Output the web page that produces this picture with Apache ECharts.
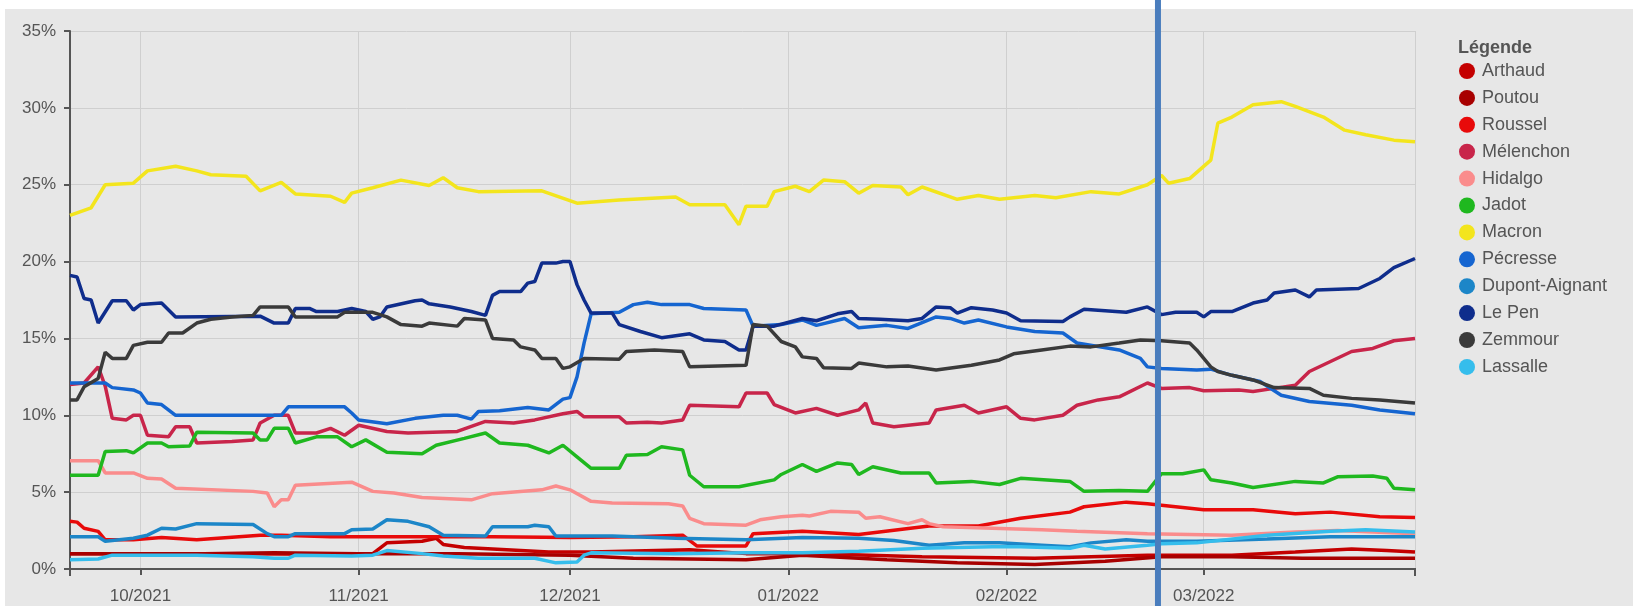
<!DOCTYPE html>
<html><head><meta charset="utf-8">
<script src="https://cdn.jsdelivr.net/npm/echarts@6/dist/echarts.min.js"></script>
<style>html,body{margin:0;padding:0;background:#fff}#c{width:1633px;height:606px}</style>
</head><body><div id="c"></div>
<script>
const names = ["Arthaud","Poutou","Roussel","Mélenchon","Hidalgo","Jadot","Macron","Pécresse","Dupont-Aignant","Le Pen","Zemmour","Lassalle"];
const colors = ["#c40000","#a80000","#e80a0a","#c8254a","#fa8c8c","#1fb81f","#f3e51d","#1565d0","#1c86c8","#0f2d8c","#3a3a3a","#35bdec"];
const yTicks = [0,5,10,15,20,25,30,35];
const markerDate = "2022-02-22T12:00:00";

const arthaud = [["2021-09-21",1.0],["2021-10-15",1.0],["2021-11-01",0.95],["2021-11-03",1.0],["2021-11-05",1.7],["2021-11-10",1.8],["2021-11-12",2.0],["2021-11-13",1.6],["2021-11-16",1.4],["2021-11-28",1.1],["2021-12-04",1.1],["2021-12-18",1.25],["2021-12-26",1.0],["2022-01-05",1.0],["2022-01-20",0.8],["2022-02-05",0.7],["2022-02-21",0.9],["2022-03-05",0.9],["2022-03-14",1.1],["2022-03-22",1.3],["2022-03-27",1.2],["2022-03-31",1.1]];
const poutou = [["2021-09-21",1.0],["2021-10-10",1.0],["2021-10-20",1.05],["2021-11-01",1.0],["2021-11-15",1.0],["2021-12-01",0.9],["2021-12-10",0.7],["2021-12-26",0.6],["2022-01-03",0.9],["2022-01-15",0.6],["2022-01-25",0.4],["2022-02-05",0.3],["2022-02-15",0.5],["2022-02-23",0.8],["2022-03-05",0.8],["2022-03-15",0.7],["2022-03-31",0.7]];
const roussel = [["2021-09-21",3.1],["2021-09-22",3.05],["2021-09-23",2.65],["2021-09-25",2.45],["2021-09-26",1.9],["2021-09-30",1.9],["2021-10-04",2.05],["2021-10-09",1.9],["2021-10-12",2.0],["2021-10-18",2.2],["2021-10-21",2.2],["2021-10-28",2.1],["2021-11-09",2.1],["2021-11-20",2.1],["2021-12-01",2.05],["2021-12-10",2.1],["2021-12-17",2.2],["2021-12-19",1.5],["2021-12-26",1.5],["2021-12-27",2.3],["2022-01-03",2.45],["2022-01-11",2.25],["2022-01-21",2.8],["2022-01-28",2.8],["2022-02-03",3.3],["2022-02-10",3.7],["2022-02-12",4.05],["2022-02-18",4.35],["2022-02-21",4.25],["2022-02-23",4.15],["2022-03-01",3.85],["2022-03-08",3.85],["2022-03-14",3.6],["2022-03-19",3.7],["2022-03-26",3.4],["2022-03-31",3.35]];
const melenchon = [["2021-09-21",12.0],["2021-09-23",12.1],["2021-09-25",13.15],["2021-09-26",11.9],["2021-09-27",9.8],["2021-09-29",9.7],["2021-09-30",10.0],["2021-10-01",10.0],["2021-10-02",8.7],["2021-10-05",8.6],["2021-10-06",9.25],["2021-10-08",9.25],["2021-10-09",8.2],["2021-10-14",8.3],["2021-10-17",8.4],["2021-10-18",9.5],["2021-10-20",10.0],["2021-10-22",10.0],["2021-10-23",8.85],["2021-10-26",8.85],["2021-10-28",9.15],["2021-10-30",8.7],["2021-11-01",9.35],["2021-11-05",8.95],["2021-11-08",8.85],["2021-11-15",8.95],["2021-11-19",9.6],["2021-11-23",9.5],["2021-11-26",9.7],["2021-11-30",10.1],["2021-12-02",10.25],["2021-12-03",9.9],["2021-12-08",9.9],["2021-12-09",9.5],["2021-12-12",9.55],["2021-12-14",9.5],["2021-12-17",9.7],["2021-12-18",10.65],["2021-12-25",10.55],["2021-12-26",11.45],["2021-12-29",11.45],["2021-12-30",10.7],["2022-01-02",10.15],["2022-01-05",10.45],["2022-01-08",10.0],["2022-01-11",10.35],["2022-01-12",10.8],["2022-01-13",9.5],["2022-01-16",9.25],["2022-01-21",9.5],["2022-01-22",10.35],["2022-01-26",10.65],["2022-01-28",10.15],["2022-02-01",10.55],["2022-02-03",9.8],["2022-02-05",9.7],["2022-02-09",10.0],["2022-02-11",10.65],["2022-02-14",11.0],["2022-02-17",11.2],["2022-02-21",12.1],["2022-02-23",11.75],["2022-02-27",11.8],["2022-03-01",11.6],["2022-03-06",11.65],["2022-03-08",11.55],["2022-03-11",11.75],["2022-03-14",11.95],["2022-03-16",12.85],["2022-03-19",13.5],["2022-03-22",14.15],["2022-03-25",14.35],["2022-03-28",14.85],["2022-03-31",15.0]];
const hidalgo = [["2021-09-21",7.05],["2021-09-25",7.05],["2021-09-26",6.25],["2021-09-30",6.25],["2021-10-02",5.9],["2021-10-04",5.85],["2021-10-06",5.25],["2021-10-17",5.05],["2021-10-19",4.95],["2021-10-20",4.05],["2021-10-21",4.5],["2021-10-22",4.5],["2021-10-23",5.45],["2021-10-31",5.65],["2021-11-03",5.05],["2021-11-06",4.95],["2021-11-10",4.65],["2021-11-17",4.5],["2021-11-20",4.9],["2021-11-27",5.15],["2021-11-29",5.4],["2021-12-01",5.15],["2021-12-04",4.4],["2021-12-07",4.3],["2021-12-15",4.25],["2021-12-17",4.1],["2021-12-18",3.3],["2021-12-20",2.95],["2021-12-26",2.85],["2021-12-28",3.2],["2021-12-31",3.4],["2022-01-03",3.5],["2022-01-04",3.45],["2022-01-07",3.75],["2022-01-11",3.7],["2022-01-12",3.3],["2022-01-14",3.4],["2022-01-18",2.95],["2022-01-20",3.2],["2022-01-21",2.95],["2022-01-23",2.75],["2022-01-30",2.65],["2022-02-06",2.55],["2022-02-11",2.45],["2022-02-21",2.3],["2022-03-05",2.2],["2022-03-14",2.4],["2022-03-20",2.5],["2022-03-31",2.3]];
const jadot = [["2021-09-21",6.1],["2021-09-25",6.1],["2021-09-26",7.65],["2021-09-29",7.7],["2021-09-30",7.55],["2021-10-02",8.2],["2021-10-04",8.2],["2021-10-05",7.95],["2021-10-08",8.0],["2021-10-09",8.9],["2021-10-17",8.85],["2021-10-18",8.4],["2021-10-19",8.4],["2021-10-20",9.15],["2021-10-22",9.15],["2021-10-23",8.2],["2021-10-26",8.6],["2021-10-29",8.6],["2021-10-31",7.95],["2021-11-02",8.4],["2021-11-05",7.6],["2021-11-10",7.5],["2021-11-12",8.05],["2021-11-16",8.5],["2021-11-19",8.85],["2021-11-21",8.2],["2021-11-25",8.05],["2021-11-28",7.55],["2021-11-30",8.05],["2021-12-02",7.3],["2021-12-04",6.55],["2021-12-08",6.55],["2021-12-09",7.4],["2021-12-12",7.45],["2021-12-14",7.95],["2021-12-17",7.75],["2021-12-18",6.1],["2021-12-20",5.35],["2021-12-25",5.35],["2021-12-30",5.8],["2021-12-31",6.15],["2022-01-03",6.8],["2022-01-05",6.35],["2022-01-08",6.9],["2022-01-10",6.8],["2022-01-11",6.15],["2022-01-13",6.65],["2022-01-17",6.25],["2022-01-21",6.25],["2022-01-22",5.6],["2022-01-27",5.7],["2022-01-31",5.5],["2022-02-03",5.9],["2022-02-10",5.7],["2022-02-12",5.05],["2022-02-17",5.1],["2022-02-21",5.05],["2022-02-23",6.2],["2022-02-26",6.2],["2022-03-01",6.45],["2022-03-02",5.8],["2022-03-05",5.6],["2022-03-08",5.3],["2022-03-14",5.7],["2022-03-18",5.6],["2022-03-20",6.0],["2022-03-25",6.05],["2022-03-27",5.9],["2022-03-28",5.25],["2022-03-31",5.15]];
const macron = [["2021-09-21",23.0],["2021-09-24",23.5],["2021-09-26",25.0],["2021-09-30",25.1],["2021-10-02",25.9],["2021-10-06",26.2],["2021-10-09",25.9],["2021-10-11",25.65],["2021-10-16",25.55],["2021-10-18",24.6],["2021-10-21",25.15],["2021-10-23",24.4],["2021-10-28",24.25],["2021-10-30",23.85],["2021-10-31",24.45],["2021-11-03",24.8],["2021-11-07",25.3],["2021-11-11",24.95],["2021-11-13",25.45],["2021-11-15",24.8],["2021-11-18",24.55],["2021-11-27",24.6],["2021-12-02",23.8],["2021-12-08",24.0],["2021-12-16",24.2],["2021-12-18",23.7],["2021-12-23",23.7],["2021-12-25",22.4],["2021-12-26",23.6],["2021-12-29",23.6],["2021-12-30",24.55],["2022-01-02",24.9],["2022-01-04",24.55],["2022-01-06",25.3],["2022-01-09",25.2],["2022-01-11",24.45],["2022-01-13",24.95],["2022-01-17",24.85],["2022-01-18",24.35],["2022-01-20",24.85],["2022-01-25",24.05],["2022-01-28",24.3],["2022-01-31",24.05],["2022-02-05",24.3],["2022-02-08",24.15],["2022-02-13",24.55],["2022-02-17",24.4],["2022-02-21",25.0],["2022-02-23",25.6],["2022-02-24",25.1],["2022-02-27",25.4],["2022-03-02",26.6],["2022-03-03",29.0],["2022-03-05",29.4],["2022-03-08",30.2],["2022-03-12",30.4],["2022-03-14",30.1],["2022-03-18",29.4],["2022-03-21",28.55],["2022-03-24",28.25],["2022-03-28",27.9],["2022-03-31",27.8]];
const pecresse = [["2021-09-21",12.1],["2021-09-26",12.1],["2021-09-27",11.8],["2021-09-30",11.65],["2021-10-01",11.45],["2021-10-02",10.8],["2021-10-04",10.7],["2021-10-06",10.0],["2021-10-21",10.0],["2021-10-22",10.55],["2021-10-30",10.55],["2021-10-31",10.15],["2021-11-01",9.7],["2021-11-05",9.45],["2021-11-09",9.8],["2021-11-13",10.0],["2021-11-15",10.0],["2021-11-17",9.75],["2021-11-18",10.25],["2021-11-21",10.3],["2021-11-25",10.5],["2021-11-28",10.35],["2021-11-30",11.05],["2021-12-01",11.15],["2021-12-02",12.5],["2021-12-03",14.7],["2021-12-04",16.6],["2021-12-08",16.7],["2021-12-10",17.2],["2021-12-12",17.35],["2021-12-14",17.2],["2021-12-18",17.2],["2021-12-20",16.95],["2021-12-26",16.85],["2021-12-27",15.8],["2021-12-31",15.9],["2022-01-03",16.2],["2022-01-05",15.85],["2022-01-09",16.3],["2022-01-11",15.7],["2022-01-15",15.85],["2022-01-18",15.65],["2022-01-22",16.4],["2022-01-24",16.3],["2022-01-26",16.0],["2022-01-28",16.2],["2022-02-01",15.75],["2022-02-05",15.45],["2022-02-09",15.35],["2022-02-11",14.7],["2022-02-17",14.25],["2022-02-20",13.7],["2022-02-21",13.15],["2022-02-23",13.05],["2022-02-28",12.95],["2022-03-02",13.0],["2022-03-05",12.6],["2022-03-09",12.2],["2022-03-12",11.3],["2022-03-16",10.9],["2022-03-22",10.65],["2022-03-26",10.35],["2022-03-31",10.1]];
const dupont = [["2021-09-21",2.1],["2021-09-25",2.1],["2021-09-26",1.8],["2021-09-30",2.0],["2021-10-02",2.2],["2021-10-04",2.65],["2021-10-06",2.6],["2021-10-09",2.95],["2021-10-17",2.9],["2021-10-19",2.3],["2021-10-20",2.1],["2021-10-22",2.1],["2021-10-23",2.3],["2021-10-30",2.3],["2021-10-31",2.55],["2021-11-03",2.6],["2021-11-05",3.2],["2021-11-08",3.1],["2021-11-11",2.75],["2021-11-13",2.2],["2021-11-19",2.15],["2021-11-20",2.75],["2021-11-25",2.75],["2021-11-26",2.85],["2021-11-28",2.75],["2021-11-29",2.15],["2021-12-07",2.15],["2021-12-16",2.0],["2021-12-26",1.9],["2022-01-03",2.05],["2022-01-11",2.0],["2022-01-16",1.85],["2022-01-21",1.55],["2022-01-26",1.7],["2022-01-31",1.7],["2022-02-06",1.55],["2022-02-10",1.45],["2022-02-13",1.7],["2022-02-18",1.9],["2022-02-21",1.8],["2022-02-28",1.8],["2022-03-10",1.95],["2022-03-19",2.1],["2022-03-31",2.1]];
const lepen = [["2021-09-21",19.1],["2021-09-22",19.0],["2021-09-23",17.6],["2021-09-24",17.5],["2021-09-25",16.0],["2021-09-27",17.45],["2021-09-29",17.45],["2021-09-30",16.85],["2021-10-01",17.2],["2021-10-04",17.3],["2021-10-06",16.4],["2021-10-18",16.45],["2021-10-20",16.0],["2021-10-22",16.0],["2021-10-23",16.95],["2021-10-25",16.95],["2021-10-26",16.75],["2021-10-29",16.75],["2021-10-31",16.95],["2021-11-02",16.75],["2021-11-03",16.25],["2021-11-04",16.4],["2021-11-05",17.05],["2021-11-09",17.45],["2021-11-10",17.5],["2021-11-11",17.25],["2021-11-14",17.05],["2021-11-17",16.75],["2021-11-19",16.5],["2021-11-20",17.8],["2021-11-21",18.05],["2021-11-24",18.05],["2021-11-25",18.6],["2021-11-26",18.7],["2021-11-27",19.9],["2021-11-29",19.9],["2021-11-30",20.0],["2021-12-01",20.0],["2021-12-02",18.5],["2021-12-03",17.5],["2021-12-04",16.65],["2021-12-07",16.65],["2021-12-08",15.9],["2021-12-11",15.45],["2021-12-14",15.05],["2021-12-18",15.3],["2021-12-20",14.9],["2021-12-23",14.8],["2021-12-25",14.25],["2021-12-26",14.25],["2021-12-27",15.8],["2021-12-30",15.8],["2022-01-03",16.3],["2022-01-05",16.15],["2022-01-08",16.6],["2022-01-10",16.75],["2022-01-11",16.3],["2022-01-14",16.25],["2022-01-18",16.15],["2022-01-20",16.3],["2022-01-22",17.05],["2022-01-24",17.0],["2022-01-25",16.65],["2022-01-27",17.0],["2022-01-30",16.85],["2022-02-01",16.65],["2022-02-03",16.15],["2022-02-09",16.1],["2022-02-10",16.4],["2022-02-12",16.9],["2022-02-15",16.8],["2022-02-18",16.7],["2022-02-21",17.05],["2022-02-23",16.55],["2022-02-25",16.7],["2022-02-28",16.7],["2022-03-01",16.4],["2022-03-02",16.75],["2022-03-05",16.75],["2022-03-08",17.3],["2022-03-10",17.5],["2022-03-11",17.95],["2022-03-14",18.15],["2022-03-16",17.7],["2022-03-17",18.15],["2022-03-23",18.25],["2022-03-26",18.9],["2022-03-28",19.6],["2022-03-31",20.2]];
const zemmour = [["2021-09-21",11.0],["2021-09-22",11.0],["2021-09-23",11.85],["2021-09-25",12.4],["2021-09-26",14.1],["2021-09-27",13.7],["2021-09-29",13.7],["2021-09-30",14.55],["2021-10-02",14.75],["2021-10-04",14.75],["2021-10-05",15.35],["2021-10-07",15.35],["2021-10-09",16.0],["2021-10-11",16.25],["2021-10-14",16.4],["2021-10-17",16.5],["2021-10-18",17.05],["2021-10-22",17.05],["2021-10-23",16.4],["2021-10-29",16.4],["2021-10-30",16.7],["2021-11-03",16.7],["2021-11-05",16.4],["2021-11-07",15.9],["2021-11-10",15.8],["2021-11-11",16.0],["2021-11-15",15.8],["2021-11-16",16.3],["2021-11-19",16.2],["2021-11-20",15.0],["2021-11-23",14.9],["2021-11-24",14.45],["2021-11-26",14.25],["2021-11-27",13.7],["2021-11-29",13.7],["2021-11-30",13.05],["2021-12-01",13.15],["2021-12-03",13.7],["2021-12-08",13.65],["2021-12-09",14.15],["2021-12-13",14.25],["2021-12-17",14.15],["2021-12-18",13.15],["2021-12-26",13.25],["2021-12-27",15.9],["2021-12-29",15.8],["2021-12-31",14.8],["2022-01-02",14.45],["2022-01-03",13.8],["2022-01-05",13.7],["2022-01-06",13.1],["2022-01-10",13.05],["2022-01-11",13.4],["2022-01-15",13.15],["2022-01-18",13.2],["2022-01-22",12.95],["2022-01-27",13.25],["2022-01-31",13.6],["2022-02-02",14.0],["2022-02-06",14.25],["2022-02-10",14.5],["2022-02-13",14.45],["2022-02-17",14.7],["2022-02-20",14.9],["2022-02-23",14.85],["2022-02-27",14.7],["2022-02-28",14.25],["2022-03-02",13.15],["2022-03-03",12.85],["2022-03-05",12.6],["2022-03-08",12.3],["2022-03-11",11.8],["2022-03-16",11.75],["2022-03-18",11.3],["2022-03-22",11.1],["2022-03-26",11.0],["2022-03-31",10.8]];
const lassalle = [["2021-09-21",0.6],["2021-09-25",0.65],["2021-09-27",0.9],["2021-10-09",0.9],["2021-10-17",0.8],["2021-10-20",0.7],["2021-10-22",0.7],["2021-10-23",0.9],["2021-10-31",0.85],["2021-11-03",0.9],["2021-11-05",1.2],["2021-11-10",1.0],["2021-11-13",0.85],["2021-11-18",0.7],["2021-11-26",0.7],["2021-11-29",0.4],["2021-12-02",0.45],["2021-12-03",0.9],["2021-12-04",1.05],["2021-12-16",1.0],["2021-12-26",1.05],["2022-01-03",1.05],["2022-01-11",1.15],["2022-01-20",1.35],["2022-01-30",1.45],["2022-02-03",1.45],["2022-02-10",1.35],["2022-02-12",1.55],["2022-02-15",1.3],["2022-02-21",1.55],["2022-02-23",1.65],["2022-02-28",1.7],["2022-03-10",2.2],["2022-03-19",2.45],["2022-03-24",2.55],["2022-03-31",2.4]];

const seriesData = [arthaud,poutou,roussel,melenchon,hidalgo,jadot,macron,pecresse,dupont,lepen,zemmour,lassalle];
const xMin = "2021-09-21", xMax = "2022-03-31";
const DAY = 86400000;

const chart = echarts.init(document.getElementById('c'), null, {renderer:'canvas'});
const labelColor = '#555555';
const axisColor = '#555555';
const FONT = '"Liberation Sans", Arial, sans-serif';
chart.setOption({
  animation:false,
  backgroundColor:'#e7e7e7',
  textStyle:{fontFamily:FONT},
  title:{text:'Légende', left:1453, top:34, textStyle:{fontSize:18, fontWeight:'bold', color:labelColor, fontFamily:FONT}},
  legend:{orient:'vertical', left:1454, top:57, itemWidth:16, itemHeight:16, itemGap:8.9, icon:'circle',
    data:names, textStyle:{fontSize:18, color:labelColor, fontFamily:FONT, padding:[0,0,0,2]}},
  grid:{left:70, right:218, top:31, bottom:37, containLabel:false},
  xAxis:{type:'time', min:xMin, max:xMax, minInterval:28*DAY, maxInterval:31*DAY,
    axisLine:{show:true, lineStyle:{color:axisColor, width:2}},
    axisTick:{show:true, length:6, lineStyle:{color:axisColor, width:2}},
    splitLine:{show:true, lineStyle:{color:'#cfcfcf', width:1}},
    axisLabel:{color:labelColor, fontSize:17, margin:19, fontFamily:FONT,
      formatter:function(v){const d=new Date(v);const m=d.getMonth()+1;return (m<10?'0':'')+m+'/'+d.getFullYear();}}},
  yAxis:{type:'value', min:yTicks[0], max:yTicks[yTicks.length-1], interval:5,
    axisLine:{show:true, lineStyle:{color:axisColor, width:2}},
    axisTick:{show:true, length:6, lineStyle:{color:axisColor, width:2}},
    splitLine:{show:true, lineStyle:{color:'#cfcfcf', width:1}},
    axisLabel:{color:labelColor, fontSize:17, margin:14, fontFamily:FONT, formatter:'{value}%'}},
  series: names.map((n,i)=>({name:n, type:'line', data:seriesData[i], showSymbol:false, symbol:'circle',
    color:colors[i], lineStyle:{width:3.5, color:colors[i]}, z:2+i}))
});
const px = chart.convertToPixel({xAxisIndex:0}, new Date(markerDate).getTime());
const pL = chart.convertToPixel({gridIndex:0}, [new Date(xMin).getTime(), 0]);
const pR = chart.convertToPixel({gridIndex:0}, [new Date(xMax).getTime(), 0]);
chart.setOption({graphic:[
  {type:'rect', shape:{x:0,y:0,width:1633,height:9}, style:{fill:'#ffffff'}, z:0},
  {type:'rect', shape:{x:0,y:0,width:5,height:606}, style:{fill:'#ffffff'}, z:0},
  {type:'line', shape:{x1:pL[0],y1:pL[1],x2:pL[0],y2:pL[1]+7}, style:{stroke:axisColor, lineWidth:2}, z:5},
  {type:'line', shape:{x1:pR[0],y1:pR[1]-1,x2:pR[0],y2:pR[1]+7}, style:{stroke:axisColor, lineWidth:2}, z:5},
  {type:'line', shape:{x1:px,y1:0,x2:px,y2:606}, style:{stroke:'#4a7dbd', lineWidth:6}, z:100}
]});
</script></body></html>
